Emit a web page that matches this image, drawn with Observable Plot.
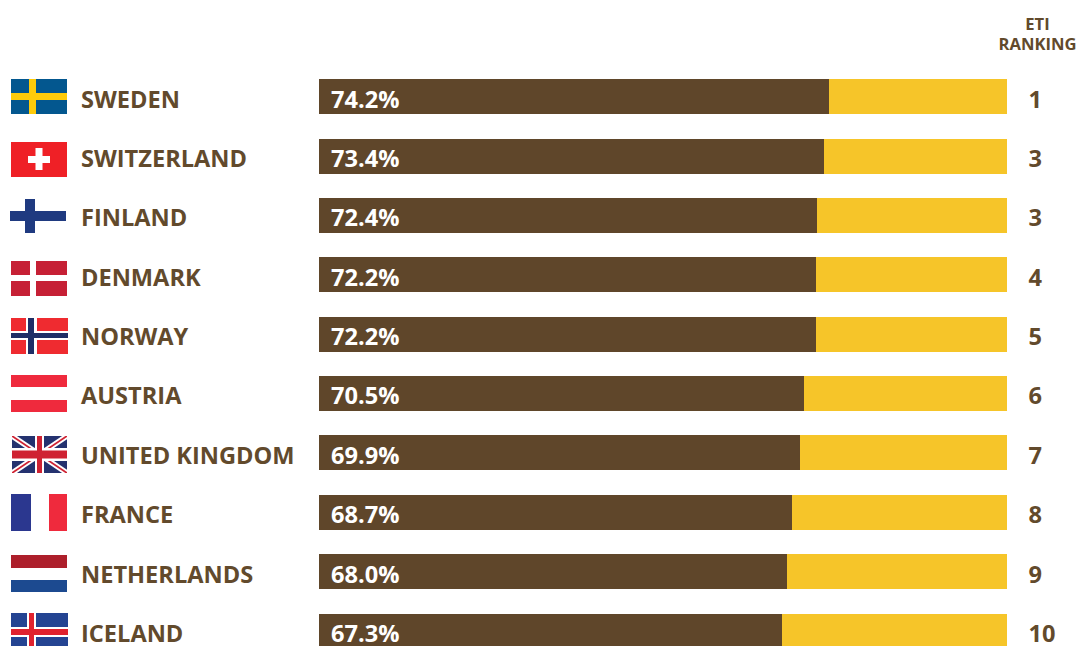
<!DOCTYPE html>
<html>
<head>
<meta charset="utf-8">
<script src="https://cdn.jsdelivr.net/npm/d3@7"></script>
<script src="https://cdn.jsdelivr.net/npm/@observablehq/plot@0.6"></script>
<style>
  html, body { margin: 0; padding: 0; background: #fff; overflow: hidden; }
  svg { display: block; }
</style>
</head>
<body>
<div id="chart"></div>
<script>
// Top ten countries of the ETI ranking
const countries = ["SWEDEN", "SWITZERLAND", "FINLAND", "DENMARK", "NORWAY", "AUSTRIA", "UNITED KINGDOM", "FRANCE", "NETHERLANDS", "ICELAND"];
const scores = [74.2, 73.4, 72.4, 72.2, 72.2, 70.5, 69.9, 68.7, 68.0, 67.3];
const rankings = [1, 3, 3, 4, 5, 6, 7, 8, 9, 10];

const rows = countries.map((country, i) => ({country, score: scores[i], rank: rankings[i]}));

const BROWN = "#5f462a";
const YELLOW = "#f6c529";
const INK = "#624a2c";
const FONT = "'Open Sans', sans-serif";
const LABEL_SIZE = 23.6;
const TEXT_DROP = 2.88;

// Row layout of the band scale
const ROW_START = 79.15;
const ROW_STEP = 59.38;
const BAR_HEIGHT = 35;
const BAR_LEFT = 319;
const PIXEL_OFFSET = 0.5; // Plot nudges marks by half a pixel at this device ratio

// Small vector flags: [left edge, offset from the bar's top, width, height, shapes]
const r = (x, y, w, h, c) => `<rect x="${x}" y="${y}" width="${w}" height="${h}" fill="${c}"/>`;
const l = (x1, y1, x2, y2, sw, c) => `<line x1="${x1}" y1="${y1}" x2="${x2}" y2="${y2}" stroke="${c}" stroke-width="${sw}"/>`;

const flagArt = {
  "SWEDEN": [11, 0, 56, 35,
    r(0,0,56,35,"#03578f") + r(18,0,7,35,"#fecb0a") + r(0,14,56,7,"#fecb0a")],
  "SWITZERLAND": [11, 3, 56, 35,
    r(0,0,56,35,"#ef2026") + r(17,14,22,7,"#fff") + r(24.5,6,7,22,"#fff")],
  "FINLAND": [10, 1, 56, 34,
    r(0,12,56,10,"#1f3a80") + r(15,0,10,34,"#1f3a80")],
  "DENMARK": [11, 4, 56, 35,
    r(0,0,56,35,"#c62035") + r(19,0,6,35,"#fff") + r(0,14,56,6,"#fff")],
  "NORWAY": [11, 1, 57, 36,
    r(0,0,57,36,"#ef2b30") + r(15,0,11,36,"#fff") + r(0,13,57,9,"#fff") + r(17,0,6,36,"#1f2e66") + r(0,15,57,5,"#1f2e66")],
  "AUSTRIA": [11, -1, 56, 37,
    r(0,0,56,12,"#ef2a3d") + r(0,25,56,12,"#ef2a3d")],
  "UNITED KINGDOM": [12, 1, 55, 37,
    r(0,0,55,37,"#24326f") +
    l(0,0,55,37,5.5,"#fff") + l(55,0,0,37,5.5,"#fff") +
    l(0,0,55,37,1.8,"#cf2232") + l(55,0,0,37,1.8,"#cf2232") +
    r(23,0,9,37,"#fff") + r(0,12,55,13,"#fff") +
    r(25,0,5,37,"#cf2232") + r(0,14.5,55,8,"#cf2232")],
  "FRANCE": [11, -1, 56, 37,
    r(0,0,20,37,"#2b378f") + r(38,0,18,37,"#ef2a3d")],
  "NETHERLANDS": [11, 1, 56, 37,
    r(0,0,56,13,"#ad1f2b") + r(0,25,56,12,"#1c4a90")],
  "ICELAND": [11, -1, 57, 36,
    r(0,0,57,36,"#244492") + r(16,0,9,36,"#fff") + r(0,14,57,10,"#fff") + r(18,0,5,36,"#e0222e") + r(0,16,57,6,"#e0222e")]
};

const flagSrc = (w, h, body) => "data:image/svg+xml," + encodeURIComponent(
  `<svg xmlns="http://www.w3.org/2000/svg" width="${w}" height="${h}" viewBox="0 0 ${w} ${h}">${body}</svg>`);

// Images are centred on their anchor: the row's band centre, at the plot's left margin
const flagMarks = countries.map((c, i) => {
  const [left, offset, w, h, body] = flagArt[c];
  const barTop = ROW_START + i * ROW_STEP;
  return Plot.image([c], {
    y: (d) => d,
    frameAnchor: "left",
    dx: left + w / 2 - BAR_LEFT - PIXEL_OFFSET,
    dy: Math.round(barTop) - barTop + offset + h / 2 - BAR_HEIGHT / 2 - PIXEL_OFFSET,
    width: w,
    height: h,
    preserveAspectRatio: "none",
    src: () => flagSrc(w, h, body)
  });
});

const chart = Plot.plot({
  width: 1078,
  height: 646,
  marginLeft: BAR_LEFT,
  marginRight: 71,
  marginTop: 0,
  marginBottom: 0,
  style: {background: "#fff", fontFamily: FONT},
  x: {domain: [0, 100], axis: null},
  y: {
    domain: countries,
    range: [ROW_START, ROW_START + 10 * ROW_STEP - (ROW_STEP - BAR_HEIGHT)],
    paddingInner: 1 - BAR_HEIGHT / ROW_STEP,
    paddingOuter: 0,
    round: false,
    label: null
  },
  marks: [
    Plot.barX(rows, {y: "country", x1: "score", x2: () => 100, fill: YELLOW, shapeRendering: "crispEdges"}),
    Plot.barX(rows, {y: "country", x1: () => 0, x2: "score", fill: BROWN, shapeRendering: "crispEdges"}),
    Plot.axisY({
      anchor: "left", tickSize: 0, tickPadding: 0, label: null,
      textAnchor: "start", dx: -238.5, dy: TEXT_DROP,
      fontSize: LABEL_SIZE, fontWeight: 700, fontFamily: FONT, fill: INK
    }),
    ...flagMarks,
    Plot.text(rows, {
      y: "country", frameAnchor: "left", dx: 11.5, dy: TEXT_DROP,
      text: (d) => d.score.toFixed(1) + "%", textAnchor: "start",
      fontSize: LABEL_SIZE, fontWeight: 700, fontFamily: FONT, fill: "#fff"
    }),
    Plot.text(rows, {
      y: "country", x: () => 100, dx: 21, dy: TEXT_DROP,
      text: (d) => String(d.rank), textAnchor: "start",
      fontSize: LABEL_SIZE, fontWeight: 700, fontFamily: FONT, fill: INK
    }),
    Plot.text(["ETI\nRANKING"], {
      frameAnchor: "top-right", dx: 30, dy: 15, textAnchor: "middle",
      lineAnchor: "top", lineHeight: 1.2, text: (d) => d,
      fontSize: 16.6, fontWeight: 700, fontFamily: FONT, fill: INK
    })
  ]
});

document.getElementById("chart").appendChild(chart);
</script>
</body>
</html>
